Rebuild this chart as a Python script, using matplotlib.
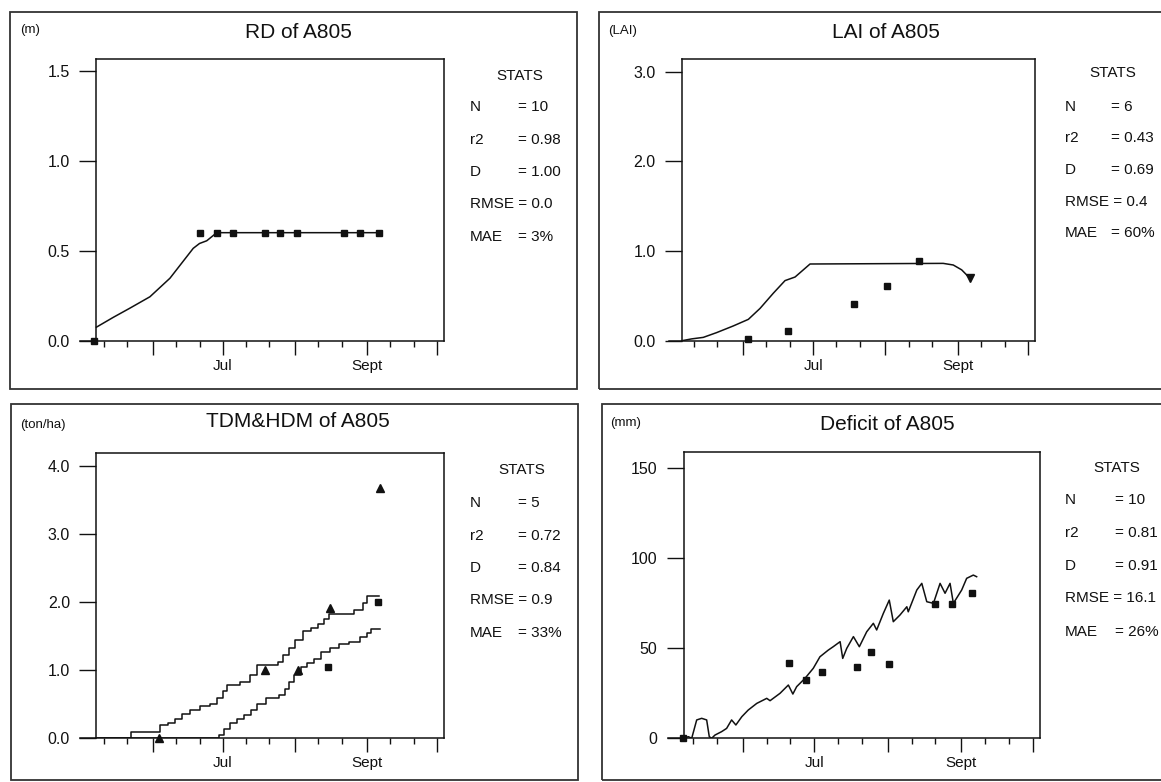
import numpy as np
import matplotlib
matplotlib.use('Agg')
from matplotlib import pyplot as plt
from matplotlib.patches import Rectangle

plt.rcParams['font.family'] = ['Liberation Sans', 'DejaVu Sans']

# x values are day of year (May 1 = 121 ... Oct 1 = 274)
month_doy = [152, 182, 213, 244, 274]
month_lab = ['', 'Jul', '', 'Sept', '']
minor_doy = [131, 141, 162, 172, 192, 202, 223, 233, 254, 264]

# RD of A805 (m)
rd_sim_doy = [127.7, 135, 142, 150.7, 159.3, 164.3, 169.3, 172, 175.1, 179.4, 249.5]
rd_sim = [0.075, 0.13, 0.18, 0.244, 0.347, 0.43, 0.513, 0.54, 0.555, 0.6, 0.6]
rd_obs_doy = [126.8, 172.2, 179.4, 186.2, 200.0, 206.7, 214.0, 234.2, 240.9, 248.9]
rd_obs = [0.0, 0.6, 0.6, 0.6, 0.6, 0.6, 0.6, 0.6, 0.6, 0.6]
rd_stats = ['= 10', '= 0.98', '= 1.00', '= 0.0', '= 3%']

# LAI of A805
lai_sim_doy = [125.9, 130, 135, 140.7, 147.8, 154.3, 159.3, 165, 170, 174.3, 180.7, 237.7, 242, 245.6, 249.2]
lai_sim = [0.0, 0.02, 0.037, 0.09, 0.164, 0.238, 0.36, 0.53, 0.67, 0.71, 0.855, 0.862, 0.844, 0.79, 0.695]
lai_obs_doy = [154.3, 171.4, 199.6, 213.5, 227.5]
lai_obs = [0.02, 0.108, 0.41, 0.615, 0.89]
lai_last_doy = [249.2]
lai_last = [0.70]
lai_stats = ['= 6', '= 0.43', '= 0.69', '= 0.4', '= 60%']

# TDM & HDM of A805 (ton/ha), simulated curves are stepwise
tdm_doy = [127.7, 142.6, 155.0, 158.5, 161.5, 164.5, 168.0, 172.0, 176.5, 179.5, 182.0, 184.0,
           189.5, 193.5, 196.5, 205.5, 208.0, 210.5, 213.0, 216.5, 220.0, 223.0, 225.5, 227.5,
           238.5, 242.0, 243.8, 249.0]
tdm_sim = [0.0, 0.09, 0.19, 0.23, 0.29, 0.35, 0.42, 0.47, 0.51, 0.59, 0.7, 0.78,
           0.83, 0.93, 1.08, 1.12, 1.22, 1.32, 1.45, 1.57, 1.62, 1.68, 1.75, 1.82,
           1.88, 1.98, 2.09, 2.09]
hdm_doy = [127.7, 180.5, 182.5, 185, 188, 191, 194, 196.5, 200.5, 206, 208.5, 210.5,
           212.5, 215.5, 218, 221, 224, 228, 232, 236, 241, 244, 245.5, 249.3]
hdm_sim = [0.0, 0.05, 0.13, 0.22, 0.28, 0.34, 0.42, 0.5, 0.59, 0.63, 0.73, 0.83,
           0.93, 1.05, 1.1, 1.17, 1.27, 1.32, 1.39, 1.42, 1.49, 1.55, 1.6, 1.6]
tdm_obs_doy = [154.7, 200.1, 214.4, 228.0, 249.3]
tdm_obs = [0.0, 1.0, 1.0, 1.91, 3.67]
hdm_obs_doy = [227.3, 248.8]
hdm_obs = [1.04, 2.0]
dm_stats = ['= 5', '= 0.72', '= 0.84', '= 0.9', '= 33%']

# Deficit of A805 (mm)
def_sim_doy = [126.9, 129, 130.4, 132.5, 134.6, 136.7, 137.8, 138.8, 140.2, 143, 145.1, 147.2,
               149, 151.5, 154.2, 157.8, 162, 163.4, 167.6, 171.1, 173, 174.6, 178.1, 181.6,
               184.4, 187.9, 190, 192.9, 194, 195.7, 198.5, 201, 204.1, 206.9, 208.3, 211.1,
               213.6, 215.3, 218.1, 221, 221.6, 225.2, 227.3, 229.4, 232.2, 235, 237.1, 239.2,
               240.6, 244.1, 246.2, 249, 250.4]
def_sim = [0, 0.9, 0, 10.2, 11.1, 10.2, 0.9, 0, 1.8, 3.7, 5.5, 10.2,
           7.4, 12, 15.7, 19.4, 22.2, 20.9, 25, 29.6, 24.6, 28.7, 33.3, 38.9,
           45.3, 49, 50.9, 53.7, 44.4, 50, 56.5, 50.9, 59.2, 63.9, 60.2, 69.4,
           76.8, 64.8, 68.5, 73.1, 70.3, 82.4, 86.1, 75.9, 75, 86.1, 80.6, 86.1,
           75, 82.4, 88.9, 90.7, 89.8]
def_obs_doy = [126.9, 171.5, 178.4, 185.4, 199.9, 205.8, 213.5, 232.9, 240.2, 248.3]
def_obs = [0, 41.7, 32.4, 37, 39.4, 48.1, 41.1, 74.4, 74.4, 80.5]
def_stats = ['= 10', '= 0.81', '= 0.91', '= 16.1', '= 26%']

stat_names = ['N', 'r2', 'D', 'RMSE', 'MAE']

W, H = 1161, 782
fig = plt.figure(figsize=(W / 100, H / 100), dpi=100)
fig.patch.set_facecolor('white')
ink = '#111111'


def fx(px):
    return px / W


def fy(py):
    return 1 - py / H


def make_axes(left, right, top, bottom):
    return fig.add_axes([fx(left), fy(bottom), (right - left) / W, (bottom - top) / H])


def style(ax, box_left, ymax, yticks, ylabels):
    ax.set_xlim(120.5, 277)
    ax.set_ylim(0, ymax)
    ax.spines['left'].set_position(('data', box_left))
    ax.spines['top'].set_bounds(box_left, 277)
    for s in ax.spines.values():
        s.set_linewidth(1.1)
        s.set_color(ink)
    ax.set_yticks(yticks)
    ax.set_yticklabels(ylabels, fontsize=11.5, color=ink)
    ax.set_xticks(month_doy)
    ax.set_xticklabels(month_lab, fontsize=11, color=ink)
    ax.set_xticks(minor_doy, minor=True)
    ax.tick_params(axis='y', direction='out', length=12, width=1.0, pad=7, color=ink)
    ax.tick_params(axis='x', which='major', direction='out', length=10, width=1.0, pad=3, color=ink)
    ax.tick_params(axis='x', which='minor', direction='out', length=4.5, width=1.0, color=ink)
    ax.patch.set_alpha(0)


def panel_text(title, tx, ty, unit, ux, uy, sx, sy, lx, vx, rows, values):
    fig.text(fx(tx), fy(ty), title, fontsize=15, ha='center', va='center', color=ink)
    fig.text(fx(ux), fy(uy), unit, fontsize=9.5, ha='left', va='center', color=ink)
    fig.text(fx(sx), fy(sy), 'STATS', fontsize=11, ha='center', va='center', color=ink)
    for name, val, ry in zip(stat_names, values, rows):
        if name == 'RMSE':
            fig.text(fx(lx), fy(ry), 'RMSE ' + val, fontsize=11, ha='left', va='center', color=ink)
        else:
            fig.text(fx(lx), fy(ry), name, fontsize=11, ha='left', va='center', color=ink)
            fig.text(fx(vx), fy(ry), val, fontsize=11, ha='left', va='center', color=ink)


# outer frames of the four panels
for (l, t, r, b) in [(10, 12, 577, 389), (599, 12, 1180, 389), (11, 404, 578, 780), (602, 404, 1180, 780)]:
    fig.add_artist(Rectangle((fx(l), fy(b)), (r - l) / W, (b - t) / H, transform=fig.transFigure,
                             fill=False, edgecolor='#333333', linewidth=1.3))

msq = dict(marker='s', markersize=5, color=ink, linestyle='none', clip_on=False)
mtri = dict(marker='^', markersize=6, color=ink, linestyle='none', clip_on=False)

# RD
ax1 = make_axes(79.6, 444, 59.3, 340.7)
style(ax1, 127.7, 1.563, [0, 0.5, 1.0, 1.5], ['0.0', '0.5', '1.0', '1.5'])
ax1.plot(rd_sim_doy, rd_sim, color=ink, lw=1.1)
ax1.plot(rd_obs_doy, rd_obs, **msq)
panel_text('RD of A805', 298, 32, '(m)', 20, 30, 520, 76, 470, 518.5,
           [107, 139.5, 172, 204.5, 237], rd_stats)

# LAI
ax2 = make_axes(669.4, 1035, 59.3, 340.7)
style(ax2, 125.9, 3.137, [0, 1, 2, 3], ['0.0', '1.0', '2.0', '3.0'])
ax2.plot(lai_sim_doy, lai_sim, color=ink, lw=1.1)
ax2.plot(lai_obs_doy, lai_obs, **msq)
ax2.plot(lai_last_doy, lai_last, marker='v', markersize=6, color=ink, linestyle='none')
panel_text('LAI of A805', 885.5, 32, '(LAI)', 608, 31, 1113, 73, 1065, 1111,
           [107, 138.5, 170, 201.5, 233], lai_stats)

# TDM & HDM
ax3 = make_axes(79.6, 444, 452.7, 738.3)
style(ax3, 127.7, 4.194, [0, 1, 2, 3, 4], ['0.0', '1.0', '2.0', '3.0', '4.0'])
ax3.plot(tdm_doy, tdm_sim, color=ink, lw=1.1, drawstyle='steps-post')
ax3.plot(hdm_doy, hdm_sim, color=ink, lw=1.1, drawstyle='steps-post')
ax3.plot(tdm_obs_doy, tdm_obs, **mtri)
ax3.plot(hdm_obs_doy, hdm_obs, **msq)
panel_text('TDM&HDM of A805', 298, 422, '(ton/ha)', 20, 425, 522, 470, 470, 518.5,
           [503, 536, 568, 600, 633], dm_stats)

# Deficit
ax4 = make_axes(668.2, 1039.8, 452, 738.3)
style(ax4, 127.0, 159.1, [0, 50, 100, 150], ['0', '50', '100', '150'])
ax4.plot(def_sim_doy, def_sim, color=ink, lw=1.1)
ax4.plot(def_obs_doy, def_obs, **msq)
panel_text('Deficit of A805', 887, 424, '(mm)', 610, 423, 1117, 468, 1065, 1115,
           [500, 533, 566, 598, 632], def_stats)

fig.savefig('out.png', dpi=100, facecolor='white')
